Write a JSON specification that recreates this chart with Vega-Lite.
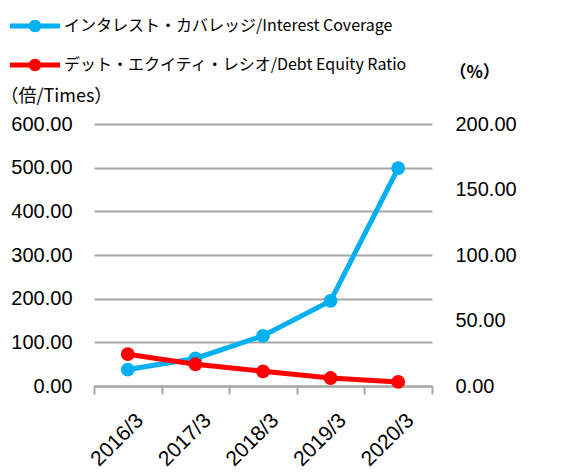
{
  "$schema": "https://vega.github.io/schema/vega-lite/v6.json",
  "width": 338,
  "height": 262,
  "autosize": {"type": "none"},
  "padding": {"left": 94, "top": 124, "right": 139, "bottom": 87},
  "background": "white",
  "config": {"view": {"stroke": null}},
  "data": {
    "values": [
      {"year": "2016/3", "series": "インタレスト・カバレッジ/Interest Coverage", "value": 37.6},
      {"year": "2017/3", "series": "インタレスト・カバレッジ/Interest Coverage", "value": 63},
      {"year": "2018/3", "series": "インタレスト・カバレッジ/Interest Coverage", "value": 115},
      {"year": "2019/3", "series": "インタレスト・カバレッジ/Interest Coverage", "value": 195},
      {"year": "2020/3", "series": "インタレスト・カバレッジ/Interest Coverage", "value": 499},
      {"year": "2016/3", "series": "デット・エクイティ・レシオ/Debt Equity Ratio", "value": 24.3},
      {"year": "2017/3", "series": "デット・エクイティ・レシオ/Debt Equity Ratio", "value": 16.6},
      {"year": "2018/3", "series": "デット・エクイティ・レシオ/Debt Equity Ratio", "value": 11.2},
      {"year": "2019/3", "series": "デット・エクイティ・レシオ/Debt Equity Ratio", "value": 6.1},
      {"year": "2020/3", "series": "デット・エクイティ・レシオ/Debt Equity Ratio", "value": 3.1}
    ]
  },
  "encoding": {
    "x": {
      "field": "year",
      "type": "ordinal",
      "sort": null,
      "scale": {"type": "band", "paddingInner": 0, "paddingOuter": 0},
      "axis": {
        "title": null,
        "labelAngle": -45,
        "labelAlign": "right",
        "labelBaseline": "middle",
        "labelOffset": 12,
        "labelPadding": 23,
        "labelFont": "Liberation Sans",
        "labelFontSize": 21,
        "labelColor": "black",
        "tickBand": "extent",
        "tickSize": 8,
        "tickColor": "#A6A6A6",
        "tickWidth": 2,
        "domainColor": "#A6A6A6",
        "domainWidth": 2,
        "grid": false
      }
    },
    "color": {
      "field": "series",
      "type": "nominal",
      "scale": {
        "domain": ["インタレスト・カバレッジ/Interest Coverage", "デット・エクイティ・レシオ/Debt Equity Ratio"],
        "range": ["#00B0F0", "#FF0000"]
      },
      "legend": {
        "title": null,
        "orient": "none",
        "legendX": -84,
        "legendY": -123,
        "padding": 0,
        "symbolType": "M-1,-0.1H1V0.1H-1Z M-0.25,0A0.25,0.25 0 1,1 0.25,0A0.25,0.25 0 1,1 -0.25,0Z",
        "symbolSize": 2500,
        "symbolStrokeWidth": 0,
        "labelFont": "Noto Sans CJK JP",
        "labelFontSize": 16,
        "labelColor": "black",
        "labelOffset": 4,
        "rowPadding": 6,
        "labelLimit": 500,
        "encode": {
          "symbols": {"update": {"fill": {"scale": "color", "field": "value"}, "stroke": {"value": "transparent"}, "opacity": {"value": 1}}}
        }
      }
    }
  },
  "layer": [
    {
      "transform": [{"filter": "datum.series === 'インタレスト・カバレッジ/Interest Coverage'"}],
      "mark": {"type": "line", "strokeWidth": 5, "point": {"filled": true, "size": 190, "opacity": 1}},
      "encoding": {
        "y": {
          "field": "value",
          "type": "quantitative",
          "scale": {"domain": [0, 600], "nice": false},
          "axis": {
            "values": [0, 100, 200, 300, 400, 500, 600],
            "format": ".2f",
            "title": "（倍/Times）",
            "titleAngle": 0,
            "titleAlign": "left",
            "titleBaseline": "middle",
            "titleX": -94,
            "titleY": -28,
            "titleFont": "Noto Sans CJK JP",
            "titleFontSize": 18,
            "titleFontWeight": "normal",
            "titleColor": "black",
            "labelFont": "Liberation Sans",
            "labelFontSize": 20,
            "labelColor": "black",
            "labelPadding": 22,
            "ticks": false,
            "domain": false,
            "grid": true,
            "gridColor": "#A6A6A6",
            "gridWidth": 2,
            "gridOpacity": 1
          }
        }
      }
    },
    {
      "transform": [{"filter": "datum.series === 'デット・エクイティ・レシオ/Debt Equity Ratio'"}],
      "mark": {"type": "line", "strokeWidth": 5, "point": {"filled": true, "size": 190, "opacity": 1}},
      "encoding": {
        "y": {
          "field": "value",
          "type": "quantitative",
          "scale": {"domain": [0, 200], "nice": false},
          "axis": {
            "orient": "right",
            "values": [0, 50, 100, 150, 200],
            "format": ".2f",
            "title": "（%）",
            "titleAngle": 0,
            "titleAlign": "left",
            "titleBaseline": "middle",
            "titleX": 17,
            "titleY": -52,
            "titleFont": "Noto Sans CJK JP",
            "titleFontSize": 17,
            "titleFontWeight": "bold",
            "titleColor": "black",
            "labelFont": "Liberation Sans",
            "labelFontSize": 20,
            "labelColor": "black",
            "labelPadding": 23,
            "ticks": false,
            "domain": false,
            "grid": false
          }
        }
      }
    }
  ],
  "resolve": {"scale": {"y": "independent"}}
}
